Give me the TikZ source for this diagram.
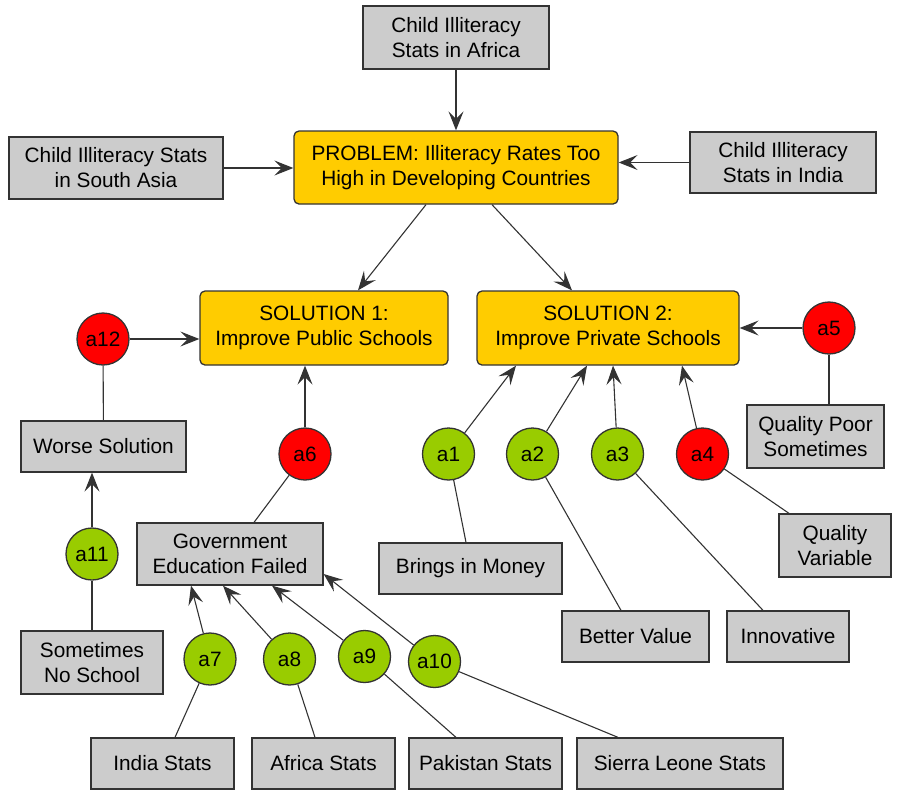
\documentclass[tikz,border=0pt]{standalone}
\usepackage{fontspec}
\setmainfont{Liberation Sans}
\usetikzlibrary{arrows.meta,calc}
\definecolor{boxgray}{HTML}{CCCCCC}
\definecolor{probyellow}{HTML}{FFCC00}
\definecolor{argreen}{HTML}{99CC00}
\definecolor{argred}{HTML}{FF0000}
\definecolor{edgegray}{HTML}{333333}
\tikzset{
  base/.style={draw=edgegray, line width=1.3pt, inner sep=0pt, align=center,
    font=\fontsize{20.8}{25}\selectfont, text=black},
  gbox/.style={base, fill=boxgray, rectangle},
  ybox/.style={base, fill=probyellow, rectangle, rounded corners=5pt},
  grn/.style={base, fill=argreen, circle, minimum size=52pt},
  rd/.style={base, fill=argred, circle, minimum size=52pt},
  con/.style={draw=edgegray, line width=1.1pt},
  arr/.style={con, -{Stealth[length=19pt,width=15pt,inset=7.5pt]}},
}
\begin{document}
\begin{tikzpicture}[x=1pt,y=-1pt]
\useasboundingbox (0,0) rectangle (909,793);
% main nodes
\node[gbox, minimum width=186pt, minimum height=63pt] (africa) at (456,37.5) {Child Illiteracy\\Stats in Africa};
\node[ybox, minimum width=324pt, minimum height=73pt] (problem) at (456,167.5) {PROBLEM: Illiteracy Rates Too\\High in Developing Countries};
\node[gbox, minimum width=214pt, minimum height=62pt] (sasia) at (116,168) {Child Illiteracy Stats\\in South Asia};
\node[gbox, minimum width=186pt, minimum height=61pt] (india) at (783,162.5) {Child Illiteracy\\Stats in India};
\node[ybox, minimum width=248pt, minimum height=74pt] (sol1) at (324,328) {SOLUTION 1:\\Improve Public Schools};
\node[ybox, minimum width=262pt, minimum height=74pt] (sol2) at (608,328) {SOLUTION 2:\\Improve Private Schools};
% left side
\node[rd] (a12) at (103,339) {a12};
\node[gbox, minimum width=165pt, minimum height=51pt] (worse) at (103.5,446.5) {Worse Solution};
\node[grn] (a11) at (92,554) {a11};
\node[gbox, minimum width=142pt, minimum height=63pt] (sns) at (92,662.5) {Sometimes\\No School};
\node[rd] (a6) at (305,454) {a6};
\node[gbox, minimum width=186pt, minimum height=62pt] (gov) at (230,554) {Government\\Education Failed};
\node[grn] (a7) at (210,659) {a7};
\node[grn] (a8) at (289.5,659) {a8};
\node[grn] (a9) at (364.5,656.5) {a9};
\node[grn] (a10) at (434.5,661.5) {a10};
\node[gbox, minimum width=143pt, minimum height=51pt] (indiaS) at (162.5,763.5) {India Stats};
\node[gbox, minimum width=143pt, minimum height=51pt] (africaS) at (323.5,763.5) {Africa Stats};
\node[gbox, minimum width=153pt, minimum height=51pt] (pakS) at (485.5,763.5) {Pakistan Stats};
\node[gbox, minimum width=206pt, minimum height=51pt] (sierraS) at (680,763.5) {Sierra Leone Stats};
% right side
\node[grn] (a1) at (448.5,454) {a1};
\node[grn] (a2) at (532.5,454) {a2};
\node[grn] (a3) at (617.5,454) {a3};
\node[rd] (a4) at (702.5,454) {a4};
\node[rd] (a5) at (829,328) {a5};
\node[gbox, minimum width=183pt, minimum height=51pt] (brings) at (470.5,568.5) {Brings in Money};
\node[gbox, minimum width=147pt, minimum height=51pt] (better) at (635.5,636.5) {Better Value};
\node[gbox, minimum width=122pt, minimum height=51pt] (innov) at (788,636.5) {Innovative};
\node[gbox, minimum width=112pt, minimum height=63pt] (qv) at (835,545.5) {Quality\\Variable};
\node[gbox, minimum width=137pt, minimum height=63pt] (qps) at (815.5,436.5) {Quality Poor\\Sometimes};
% connectors to problem
\draw[arr] (africa) -- (problem);
\draw[arr] (sasia) -- (sasia -| problem.west);
\draw[arr] (india) -- (india -| problem.east);
\draw[arr] ([xshift=-30pt]problem.south) -- ([xshift=34pt]sol1.north);
\draw[arr] ([xshift=36pt]problem.south) -- ([xshift=-36pt]sol2.north);
% solution 1
\draw[arr] (a12) -- (a12 -| sol1.west);
\draw[con] (worse) -- (a12);
\draw[arr] (a11) -- (a11 |- worse.south);
\draw[con] (sns) -- (a11);
\draw[arr] (a6) -- ([xshift=-19pt]sol1.south);
\draw[con] ([xshift=24pt]gov.north) -- (a6);
\draw[arr] (a7) -- ([xshift=-39pt]gov.south);
\draw[arr] (a8) -- ([xshift=-7pt]gov.south);
\draw[arr] (a9) -- ([xshift=42pt]gov.south);
\draw[arr] (a10) -- ([yshift=-20pt]gov.east);
\draw[con] ([xshift=12.5pt]indiaS.north) -- (a7);
\draw[con] ([xshift=-8.5pt]africaS.north) -- (a8);
\draw[con] ([xshift=-29.5pt]pakS.north) -- (a9);
\draw[con] ([xshift=-62pt]sierraS.north) -- (a10);
% solution 2
\draw[arr] (a1) -- ([xshift=-92pt]sol2.south);
\draw[arr] (a2) -- ([xshift=-21pt]sol2.south);
\draw[arr] (a3) -- ([xshift=5pt]sol2.south);
\draw[arr] (a4) -- ([xshift=74pt]sol2.south);
\draw[arr] (a5) -- (a5 -| sol2.east);
\draw[con] ([xshift=-4.5pt]brings.north) -- (a1);
\draw[con] ([xshift=-14.5pt]better.north) -- (a2);
\draw[con] ([xshift=-25pt]innov.north) -- (a3);
\draw[con] ([xshift=-46pt]qv.north) -- (a4);
\draw[con] (a5) -- (a5 |- qps.north);
\end{tikzpicture}
\end{document}
